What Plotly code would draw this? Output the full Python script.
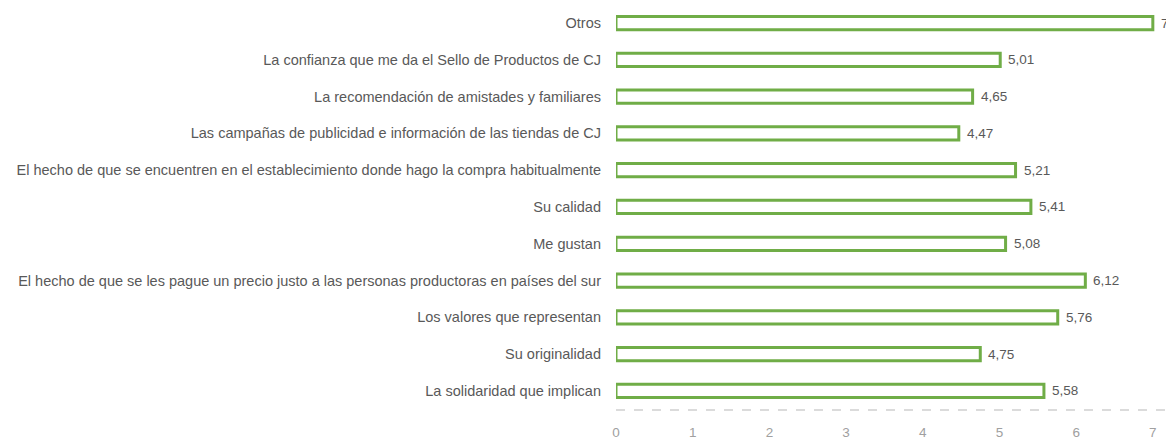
import plotly.graph_objects as go

categorias = [
    "Otros",
    "La confianza que me da el Sello de Productos de CJ",
    "La recomendación de amistades y familiares",
    "Las campañas de publicidad e información de las tiendas de CJ",
    "El hecho de que se encuentren en el establecimiento donde hago la compra habitualmente",
    "Su calidad",
    "Me gustan",
    "El hecho de que se les pague un precio justo a las personas productoras en países del sur",
    "Los valores que representan",
    "Su originalidad",
    "La solidaridad que implican",
]
valores = [7, 5.01, 4.65, 4.47, 5.21, 5.41, 5.08, 6.12, 5.76, 4.75, 5.58]
ticks = [0, 1, 2, 3, 4, 5, 6, 7]

fig = go.Figure()
fig.add_trace(go.Bar(
    x=valores, y=categorias, orientation="h",
    width=0.36,
    marker=dict(color="white", line=dict(color="#70AD47", width=3)),
))

# etiquetas de valor a la derecha de cada barra
for cat, v in zip(categorias, valores):
    fig.add_annotation(x=v, y=cat, text=f"{v:g}".replace(".", ","), showarrow=False,
                       xanchor="left", xshift=6, font=dict(size=13.5, color="#595959"))

# linea de eje discontinua
fig.add_shape(type="line", xref="paper", yref="paper", x0=0, x1=1, y0=0, y1=0,
              line=dict(color="#d0d0d0", width=1.5, dash="dash"))

# la pagina tiene 8px de margen, asi que la figura es algo menor que la ventana
fig.update_layout(
    width=1166, height=430,
    margin=dict(l=608, r=2, t=0, b=28, autoexpand=False),
    plot_bgcolor="white", paper_bgcolor="white",
    font=dict(family="Liberation Sans, Arial, sans-serif", size=14.5, color="#595959"),
    showlegend=False,
)
fig.update_yaxes(range=[10.52, -0.41], showgrid=False, ticks="", ticklabelstandoff=14,
                 automargin=False, tickfont=dict(size=14.5, color="#595959"))
fig.update_xaxes(range=[0, 7.25], tickvals=ticks, showgrid=False, zeroline=False,
                 showline=False, automargin=False, ticks="", ticklabelstandoff=12,
                 tickfont=dict(size=13.5, color="#a0a0a0"))

fig.write_html("out.html")
